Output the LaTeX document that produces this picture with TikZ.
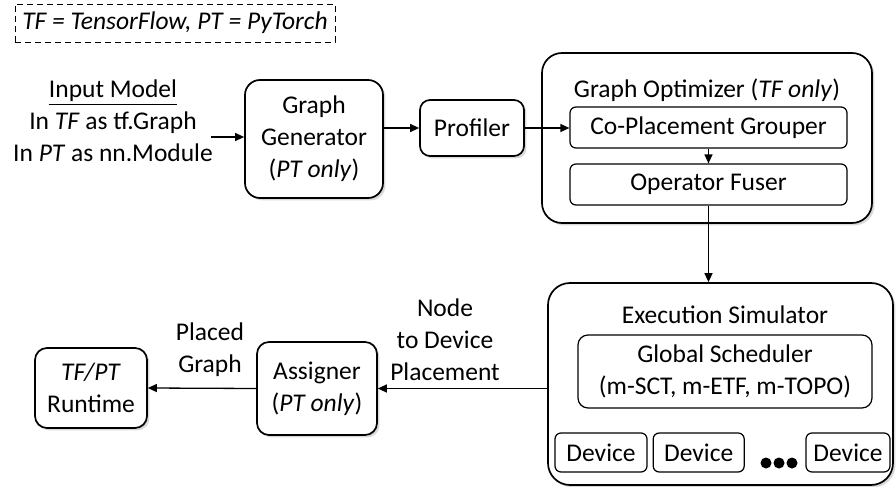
\documentclass[tikz,border=0pt]{standalone}
\usepackage{fontspec}
\setmainfont{Carlito}
\usetikzlibrary{arrows.meta, positioning, shadows}

\begin{document}
\begin{tikzpicture}[x=0.5pt, y=-0.5pt,
  font=\fontsize{12.75}{16}\selectfont,
  box/.style={draw, line width=0.85pt, align=center, inner sep=1pt, fill=white,
    drop shadow={shadow xshift=1.2pt, shadow yshift=-1.2pt, opacity=0.3}},
  subbox/.style={draw, line width=0.6pt, rounded corners=3pt, align=center, inner sep=1pt},
  arr/.style={-{Triangle[length=4.5pt, width=4pt]}, line width=0.65pt}]
\useasboundingbox (0,0) rectangle (896,487);

% Legend
\node[draw, densely dashed, line width=0.4pt, minimum width=160pt, minimum height=19pt] (legend) at (175,23) {\textit{TF = TensorFlow, PT = PyTorch}};

% Input model
\node[align=center] (inp) at (113,121) {\underline{Input Model}\\In \textit{TF} as tf.Graph\\In \textit{PT} as nn.Module};

% Graph generator
\node[box, rounded corners=7.5pt, minimum width=69pt, minimum height=59pt] (gg) at (314,139) {Graph\\Generator\\(\textit{PT only})};

% Profiler
\node[box, rounded corners=5pt, minimum width=52pt, minimum height=28pt] (prof) at (472,128) {Profiler};

% Graph optimizer
\node[box, rounded corners=10pt, minimum width=165pt, minimum height=85pt] (go) at (707,138) {};
\node (gotitle) at (707,90) {Graph Optimizer (\textit{TF only})};
\node[subbox, minimum width=138.5pt, minimum height=20.5pt] (cpg) at (708.5,127.5) {Co-Placement Grouper};
\node[subbox, minimum width=138.5pt, minimum height=20.5pt] (of) at (708.5,184.5) {Operator Fuser};

% Execution simulator
\node[box, rounded corners=11pt, minimum width=172.5pt, minimum height=101pt] (es) at (720.5,384) {};
\node (estitle) at (725,315) {Execution Simulator};
\node[subbox, rounded corners=5pt, minimum width=147pt, minimum height=36.5pt] (gs) at (725,371.5) {Global Scheduler\\(m-SCT, m-ETF, m-TOPO)};

% Devices
\node[subbox, minimum width=46pt, minimum height=19.5pt] (dev1) at (601,452.5) {Device};
\node[subbox, minimum width=45.5pt, minimum height=19.5pt, right=2.5pt of dev1] (dev2) {Device};
\node[subbox, minimum width=42pt, minimum height=19.5pt] (dev3) at (848,452.5) {Device};
\foreach \dx in {766,779,792}
  \fill (\dx,463) circle (2.75pt);

% Assigner
\node[box, rounded corners=6pt, minimum width=60pt, minimum height=46.5pt] (asg) at (317,388.5) {Assigner\\(\textit{PT only})};

% Runtime
\node[box, rounded corners=6pt, minimum width=56pt, minimum height=40pt] (rt) at (91,388) {\textit{TF/PT}\\Runtime};

% Labels
\node[align=center] (placed) at (210,350) {Placed\\Graph};
\node[align=center] (n2d) at (445,340) {Node\\to Device\\Placement};

% Arrows
\coordinate (inarr) at (211,137);
\draw[arr] (inarr) -- (inarr -| gg.west);
\draw[arr] (gg.east |- prof.west) -- (prof.west);
\draw[arr] (prof.east) -- (prof.east -| cpg.west);
\draw[arr] (cpg.south) -- (of.north);
\draw[arr] (of.south) -- (of.south |- es.north);
\draw[arr] (es.west |- asg.east) -- (asg.east);
\draw[arr] (asg.west) -- (rt.east);

\end{tikzpicture}
\end{document}
